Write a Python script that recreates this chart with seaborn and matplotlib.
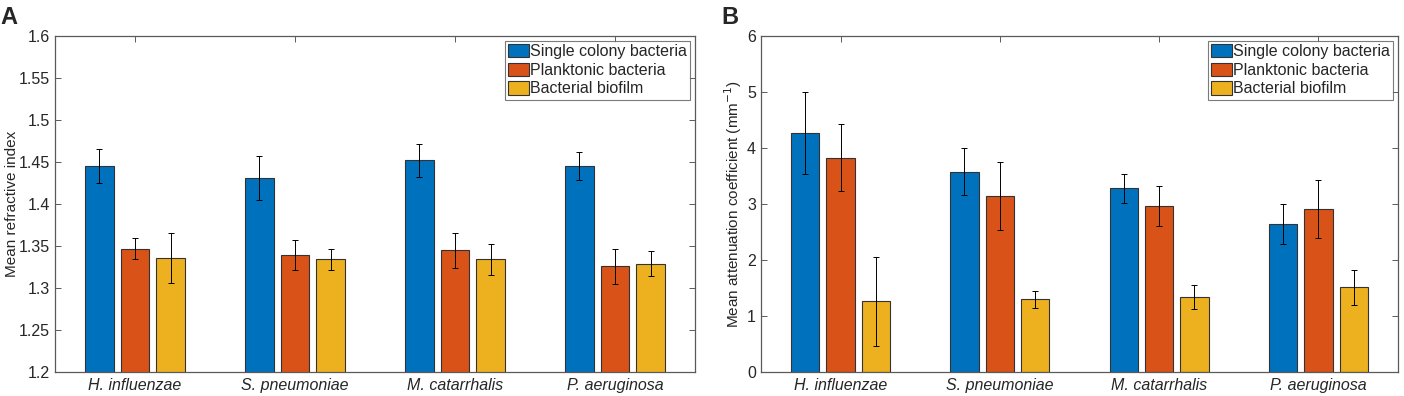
import numpy as np
import pandas as pd
import matplotlib
matplotlib.use('Agg')
import matplotlib.pyplot as plt
import seaborn as sns
from matplotlib.ticker import FuncFormatter

# categories and series
species = ['H. influenzae', 'S. pneumoniae', 'M. catarrhalis', 'P. aeruginosa']
groups = ['Single colony bacteria', 'Planktonic bacteria', 'Bacterial biofilm']

# panel A: mean refractive index (+/- error)
ri_single = [1.445, 1.431, 1.452, 1.445]
ri_plank = [1.347, 1.339, 1.345, 1.326]
ri_biofilm = [1.336, 1.334, 1.334, 1.329]
ri_single_err = [0.020, 0.026, 0.020, 0.017]
ri_plank_err = [0.012, 0.018, 0.021, 0.021]
ri_biofilm_err = [0.030, 0.013, 0.018, 0.015]

# panel B: mean attenuation coefficient (mm^-1)
att_single = [4.27, 3.58, 3.28, 2.64]
att_plank = [3.83, 3.14, 2.96, 2.91]
att_biofilm = [1.26, 1.30, 1.34, 1.51]
att_single_err = [0.73, 0.42, 0.26, 0.36]
att_plank_err = [0.60, 0.61, 0.36, 0.51]
att_biofilm_err = [0.80, 0.15, 0.21, 0.31]

colors = ['#0072BD', '#D95319', '#EDB120']

sns.set_theme(style='white')
plt.rcParams['font.family'] = ['Liberation Sans', 'DejaVu Sans']
axis_grey = '#5a5a5a'


def make_df(vals, errs):
    rows = []
    for g, v_list, e_list in zip(groups, vals, errs):
        for s, v, e in zip(species, v_list, e_list):
            rows.append({'species': s, 'group': g, 'value': v, 'err': e})
    return pd.DataFrame(rows)


def draw_panel(ax, df, ylim, yticks, ylabel, label_x):
    sns.barplot(data=df, x='species', y='value', hue='group', palette=colors,
                order=species, hue_order=groups, width=0.667, gap=0.2,
                saturation=1, edgecolor='#333333', linewidth=0.8,
                errorbar=None, ax=ax)
    # error bars on top of each bar, per hue container
    for cont, g in zip(ax.containers, groups):
        sub = df[df['group'] == g].set_index('species').loc[species]
        xs = [p.get_x() + p.get_width() / 2 for p in cont.patches]
        ax.errorbar(xs, sub['value'], yerr=sub['err'], fmt='none',
                    ecolor='black', elinewidth=0.7, capsize=2.5,
                    capthick=0.7, zorder=5)
    ax.set_xlim(-0.5, 3.5)
    ax.set_ylim(*ylim)
    ax.set_yticks(yticks)
    ax.yaxis.set_major_formatter(FuncFormatter(lambda v, p: f'{v:g}'))
    ax.set_xlabel('')
    ax.set_ylabel(ylabel, fontsize=11, color='#262626')
    ax.yaxis.set_label_coords(label_x, 0.5)
    for lab in ax.get_xticklabels():
        lab.set_fontstyle('italic')
    ax.tick_params(axis='both', direction='in', length=4, width=0.7,
                   colors=axis_grey, labelcolor='#262626', labelsize=11.5,
                   top=True, right=True, bottom=True, left=True)
    ax.tick_params(axis='x', pad=4)
    for sp in ax.spines.values():
        sp.set_visible(True)
        sp.set_color(axis_grey)
        sp.set_linewidth(0.9)
    handles, labels = ax.get_legend_handles_labels()
    leg = ax.legend(handles, labels, loc='upper right', fontsize=11.5,
                    frameon=True, fancybox=False, edgecolor=axis_grey,
                    borderpad=0.2, handlelength=1.3, handleheight=0.9,
                    handletextpad=0.1, labelspacing=0.22, borderaxespad=0.3)
    leg.get_frame().set_linewidth(0.8)


fig = plt.figure(figsize=(14.04, 3.96), dpi=100)
ax_a = fig.add_axes([0.0392, 0.0606, 0.4558, 0.8485])
ax_b = fig.add_axes([0.5420, 0.0606, 0.4537, 0.8485])

df_a = make_df([ri_single, ri_plank, ri_biofilm],
               [ri_single_err, ri_plank_err, ri_biofilm_err])
df_b = make_df([att_single, att_plank, att_biofilm],
               [att_single_err, att_plank_err, att_biofilm_err])

draw_panel(ax_a, df_a, (1.2, 1.6), np.arange(1.2, 1.6001, 0.05),
           'Mean refractive index', -0.057)
draw_panel(ax_b, df_b, (0, 6), np.arange(0, 7, 1),
           'Mean attenuation coefficient (mm$^{-1}$)', -0.027)

fig.text(0.0, 0.985, 'A', fontsize=17, fontweight='bold', va='top', ha='left')
fig.text(0.514, 0.985, 'B', fontsize=17, fontweight='bold', va='top', ha='left')

fig.savefig('out.png', dpi=100)
